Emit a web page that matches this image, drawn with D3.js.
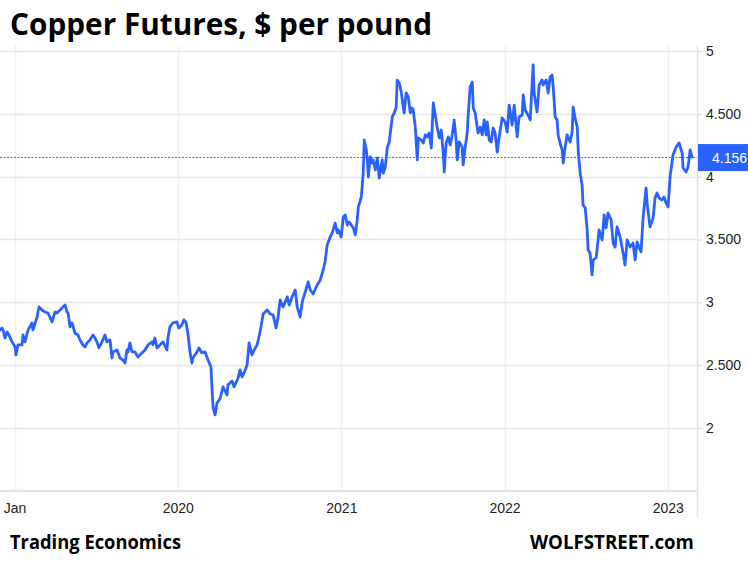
<!DOCTYPE html>
<html>
<head>
<meta charset="utf-8">
<script src="https://cdn.jsdelivr.net/npm/d3@7"></script>
<style>
  html, body { margin: 0; padding: 0; background: #ffffff; }
  svg { display: block; }
</style>
</head>
<body>
<div id="chart"></div>
<script>
// ---------- DATA ----------
const title = "Copper Futures, $ per pound";
const sourceLeft = "Trading Economics";
const sourceRight = "WOLFSTREET.com";
const lastValueLabel = "4.156";
const lastValue = 4.156;

// time as decimal years
const years = [
  2018.911, 2018.923, 2018.930, 2018.942, 2018.954, 2018.960, 2018.985, 2019.003, 2019.009, 2019.021,
  2019.046, 2019.052, 2019.064, 2019.083, 2019.107, 2019.113, 2019.138, 2019.150, 2019.168, 2019.187,
  2019.205, 2019.230, 2019.248, 2019.260, 2019.279, 2019.297, 2019.309, 2019.322, 2019.328, 2019.340,
  2019.352, 2019.370, 2019.389, 2019.401, 2019.419, 2019.432, 2019.444, 2019.462, 2019.481, 2019.493,
  2019.505, 2019.517, 2019.536, 2019.554, 2019.566, 2019.585, 2019.597, 2019.603, 2019.628, 2019.646,
  2019.664, 2019.677, 2019.689, 2019.695, 2019.707, 2019.720, 2019.738, 2019.756, 2019.781, 2019.799,
  2019.818, 2019.842, 2019.848, 2019.860, 2019.873, 2019.891, 2019.909, 2019.934, 2019.940, 2019.952,
  2019.970, 2019.995, 2020.007, 2020.025, 2020.038, 2020.050, 2020.062, 2020.075, 2020.087, 2020.093,
  2020.118, 2020.130, 2020.148, 2020.167, 2020.185, 2020.203, 2020.209, 2020.216, 2020.228, 2020.240,
  2020.258, 2020.277, 2020.301, 2020.307, 2020.332, 2020.344, 2020.369, 2020.381, 2020.393, 2020.405,
  2020.424, 2020.436, 2020.454, 2020.467, 2020.485, 2020.503, 2020.522, 2020.534, 2020.546, 2020.565,
  2020.583, 2020.601, 2020.614, 2020.626, 2020.644, 2020.669, 2020.681, 2020.699, 2020.718, 2020.730,
  2020.748, 2020.761, 2020.779, 2020.797, 2020.810, 2020.828, 2020.852, 2020.871, 2020.889, 2020.901,
  2020.913, 2020.932, 2020.944, 2020.962, 2020.975, 2020.981, 2020.999, 2021.012, 2021.024, 2021.036,
  2021.048, 2021.073, 2021.085, 2021.097, 2021.104, 2021.122, 2021.134, 2021.140, 2021.153, 2021.159,
  2021.165, 2021.177, 2021.189, 2021.195, 2021.208, 2021.220, 2021.232, 2021.250, 2021.257, 2021.269,
  2021.281, 2021.293, 2021.312, 2021.324, 2021.336, 2021.342, 2021.355, 2021.367, 2021.379, 2021.385,
  2021.397, 2021.410, 2021.422, 2021.434, 2021.440, 2021.453, 2021.465, 2021.471, 2021.489, 2021.502,
  2021.514, 2021.526, 2021.538, 2021.551, 2021.563, 2021.575, 2021.587, 2021.600, 2021.612, 2021.624,
  2021.630, 2021.642, 2021.655, 2021.667, 2021.679, 2021.691, 2021.704, 2021.710, 2021.722, 2021.740,
  2021.746, 2021.759, 2021.771, 2021.777, 2021.789, 2021.802, 2021.808, 2021.820, 2021.832, 2021.838,
  2021.851, 2021.863, 2021.875, 2021.887, 2021.894, 2021.906, 2021.918, 2021.930, 2021.942, 2021.955,
  2021.967, 2021.985, 2022.003, 2022.016, 2022.028, 2022.046, 2022.059, 2022.077, 2022.089, 2022.108,
  2022.114, 2022.126, 2022.144, 2022.157, 2022.175, 2022.181, 2022.199, 2022.212, 2022.230, 2022.236,
  2022.255, 2022.267, 2022.279, 2022.291, 2022.298, 2022.310, 2022.322, 2022.328, 2022.340, 2022.353,
  2022.359, 2022.371, 2022.383, 2022.402, 2022.414, 2022.420, 2022.432, 2022.445, 2022.451, 2022.463,
  2022.475, 2022.481, 2022.494, 2022.506, 2022.512, 2022.524, 2022.536, 2022.543, 2022.561, 2022.573,
  2022.579, 2022.598, 2022.610, 2022.622, 2022.634, 2022.653, 2022.665, 2022.677, 2022.689, 2022.708,
  2022.726, 2022.738, 2022.751, 2022.769, 2022.787, 2022.800, 2022.812, 2022.824, 2022.836, 2022.849,
  2022.867, 2022.873, 2022.891, 2022.910, 2022.922, 2022.934, 2022.947, 2022.965, 2022.977, 2022.989,
  2023.002, 2023.014, 2023.032, 2023.051, 2023.069, 2023.088, 2023.094, 2023.112, 2023.124, 2023.137,
  2023.149
];

// copper price, $ per pound
const prices = [
  2.780, 2.796, 2.780, 2.716, 2.764, 2.756, 2.685, 2.645, 2.581, 2.661,
  2.661, 2.740, 2.685, 2.780, 2.836, 2.780, 2.883, 2.963, 2.939, 2.923,
  2.915, 2.844, 2.923, 2.915, 2.939, 2.963, 2.979, 2.923, 2.915, 2.804,
  2.836, 2.756, 2.740, 2.700, 2.661, 2.645, 2.677, 2.700, 2.740, 2.716,
  2.685, 2.637, 2.685, 2.740, 2.685, 2.700, 2.557, 2.605, 2.621, 2.557,
  2.541, 2.517, 2.621, 2.605, 2.677, 2.605, 2.605, 2.565, 2.597, 2.621,
  2.661, 2.685, 2.661, 2.716, 2.637, 2.661, 2.685, 2.621, 2.716, 2.804,
  2.836, 2.844, 2.796, 2.820, 2.860, 2.844, 2.756, 2.605, 2.517, 2.557,
  2.605, 2.637, 2.597, 2.605, 2.541, 2.486, 2.327, 2.168, 2.104, 2.199,
  2.231, 2.327, 2.263, 2.343, 2.374, 2.327, 2.398, 2.462, 2.406, 2.438,
  2.502, 2.677, 2.581, 2.621, 2.661, 2.764, 2.907, 2.923, 2.939, 2.907,
  2.899, 2.796, 2.891, 3.019, 2.963, 3.043, 2.979, 3.043, 3.098, 2.963,
  2.883, 3.003, 3.082, 3.162, 3.098, 3.066, 3.138, 3.178, 3.257, 3.329,
  3.456, 3.520, 3.552, 3.631, 3.552, 3.576, 3.520, 3.679, 3.695, 3.615,
  3.639, 3.592, 3.536, 3.655, 3.759, 3.838, 4.029, 4.292, 4.212, 4.133,
  3.997, 4.157, 4.109, 4.133, 4.053, 4.149, 3.989, 4.133, 4.029, 4.077,
  4.228, 4.276, 4.475, 4.507, 4.554, 4.769, 4.745, 4.674, 4.554, 4.507,
  4.666, 4.634, 4.507, 4.546, 4.531, 4.395, 4.133, 4.308, 4.292, 4.268,
  4.332, 4.316, 4.348, 4.228, 4.586, 4.491, 4.395, 4.308, 4.371, 4.188,
  4.037, 4.268, 4.316, 4.252, 4.332, 4.451, 4.276, 4.133, 4.276, 4.236,
  4.093, 4.236, 4.348, 4.491, 4.714, 4.753, 4.546, 4.507, 4.395, 4.348,
  4.395, 4.332, 4.451, 4.332, 4.435, 4.292, 4.276, 4.387, 4.348, 4.196,
  4.316, 4.467, 4.435, 4.355, 4.570, 4.411, 4.570, 4.316, 4.475, 4.491,
  4.650, 4.531, 4.491, 4.451, 4.889, 4.666, 4.515, 4.729, 4.769, 4.729,
  4.769, 4.666, 4.793, 4.809, 4.714, 4.475, 4.451, 4.332, 4.268, 4.212,
  4.109, 4.236, 4.332, 4.276, 4.355, 4.554, 4.467, 4.395, 4.212, 4.029,
  3.934, 3.775, 3.751, 3.576, 3.417, 3.393, 3.218, 3.337, 3.353, 3.496,
  3.576, 3.496, 3.695, 3.592, 3.711, 3.655, 3.472, 3.440, 3.600, 3.520,
  3.393, 3.297, 3.496, 3.440, 3.472, 3.337, 3.480, 3.440, 3.401, 3.679,
  3.910, 3.791, 3.600, 3.671, 3.830, 3.870, 3.830, 3.814, 3.838, 3.791,
  3.759, 3.997, 4.172, 4.236, 4.268, 4.188, 4.069, 4.037, 4.077, 4.212,
  4.156
];

const xTickYears = [2019, 2020, 2021, 2022, 2023];
const xTickLabels = ["Jan", "2020", "2021", "2022", "2023"];
const yTickValues = [2, 2.5, 3, 3.5, 4, 4.5, 5];
const yTickLabels = ["2", "2.500", "3", "3.500", "4", "4.500", "5"];

// ---------- HELPERS ----------
function yearToDate(t) {
  const y = Math.floor(t);
  const s = Date.UTC(y, 0, 1), e = Date.UTC(y + 1, 0, 1);
  return new Date(s + (t - y) * (e - s));
}

const W = 748, H = 563;
const plotLeft = 0, plotRight = 697, plotTop = 45, plotBottom = 491;

const svg = d3.select("#chart").append("svg")
  .attr("width", W).attr("height", H)
  .attr("viewBox", `0 0 ${W} ${H}`);

svg.append("rect").attr("width", W).attr("height", H).attr("fill", "#ffffff");

const x = d3.scaleUtc()
  .domain([yearToDate(2018.911), yearToDate(2023.179)])
  .range([plotLeft, plotRight]);

const y = d3.scaleLinear()
  .domain([1.5, 5])
  .range([490.8, 51]);

const data = years.map((t, i) => ({ date: yearToDate(t), value: prices[i] }));

// vertical gridlines
svg.append("g").selectAll("line")
  .data(xTickYears)
  .join("line")
  .attr("x1", d => Math.round(x(yearToDate(d))) + 0.5)
  .attr("x2", d => Math.round(x(yearToDate(d))) + 0.5)
  .attr("y1", plotTop).attr("y2", plotBottom)
  .attr("stroke", "#edf2f4").attr("stroke-width", 1.5);

// horizontal gridlines
svg.append("g").selectAll("line")
  .data(yTickValues)
  .join("line")
  .attr("x1", plotLeft).attr("x2", plotRight)
  .attr("y1", d => Math.round(y(d)) + 0.5)
  .attr("y2", d => Math.round(y(d)) + 0.5)
  .attr("stroke", "#e8e8e8").attr("stroke-width", 1.5);

// bottom axis line
svg.append("line")
  .attr("x1", plotLeft).attr("x2", plotRight)
  .attr("y1", plotBottom).attr("y2", plotBottom)
  .attr("stroke", "#e3e3e3").attr("stroke-width", 2);

// right axis (d3 axis)
const yAxis = d3.axisRight(y)
  .tickValues(yTickValues)
  .tickSize(5)
  .tickPadding(4)
  .tickFormat((d, i) => yTickLabels[i]);

const gy = svg.append("g")
  .attr("transform", `translate(${plotRight},0)`)
  .call(yAxis);
gy.select(".domain").remove();
gy.selectAll(".tick line").attr("stroke", "#d6d6d6");
gy.selectAll(".tick text")
  .attr("font-family", "Arial, 'Liberation Sans', sans-serif")
  .attr("font-size", 14)
  .attr("fill", "#222");

svg.append("line")
  .attr("x1", plotRight + 0.5).attr("x2", plotRight + 0.5)
  .attr("y1", plotTop).attr("y2", 517)
  .attr("stroke", "#e3e3e3").attr("stroke-width", 1.5);

// bottom axis labels
const xAxis = d3.axisBottom(x)
  .tickValues(xTickYears.map(yearToDate))
  .tickSize(0)
  .tickPadding(12)
  .tickFormat((d, i) => xTickLabels[i]);
const gx = svg.append("g")
  .attr("transform", `translate(0,${plotBottom})`)
  .call(xAxis);
gx.select(".domain").remove();
gx.selectAll(".tick text")
  .attr("font-family", "Arial, 'Liberation Sans', sans-serif")
  .attr("font-size", 14)
  .attr("fill", "#222");

// dotted last-value line
svg.append("line")
  .attr("x1", plotLeft).attr("x2", plotRight)
  .attr("y1", Math.round(y(lastValue)) + 0.5)
  .attr("y2", Math.round(y(lastValue)) + 0.5)
  .attr("stroke", "#3b6dff").attr("stroke-width", 1)
  .attr("stroke-dasharray", "2,1.5");

// price line
const line = d3.line()
  .x(d => x(d.date))
  .y(d => y(d.value));

svg.append("path")
  .datum(data)
  .attr("d", line)
  .attr("fill", "none")
  .attr("stroke", "#2962ff")
  .attr("stroke-width", 2.8)
  .attr("stroke-linejoin", "round")
  .attr("stroke-linecap", "round");

// last value box
const ly = y(lastValue);
svg.append("rect")
  .attr("x", plotRight + 1).attr("y", ly - 13)
  .attr("width", W - plotRight).attr("height", 27)
  .attr("fill", "#2962ff");
svg.append("text")
  .attr("x", 712).attr("y", ly + 5.5)
  .attr("font-family", "Arial, 'Liberation Sans', sans-serif")
  .attr("font-size", 14)
  .attr("fill", "#ffffff")
  .text(lastValueLabel);

// title
svg.append("text")
  .attr("x", 10).attr("y", 35)
  .attr("font-family", "'Open Sans', sans-serif")
  .attr("font-weight", 700)
  .attr("font-size", 31)
  .attr("fill", "#000")
  .attr("textLength", 422)
  .attr("lengthAdjust", "spacingAndGlyphs")
  .text(title);

// footer
svg.append("text")
  .attr("x", 10).attr("y", 549)
  .attr("font-family", "'Open Sans', sans-serif")
  .attr("font-weight", 700)
  .attr("font-size", 19)
  .attr("fill", "#000")
  .attr("textLength", 171)
  .attr("lengthAdjust", "spacingAndGlyphs")
  .text(sourceLeft);

svg.append("text")
  .attr("x", 530).attr("y", 549)
  .attr("font-family", "'Open Sans', sans-serif")
  .attr("font-weight", 700)
  .attr("font-size", 19)
  .attr("fill", "#000")
  .attr("textLength", 164)
  .attr("lengthAdjust", "spacingAndGlyphs")
  .text(sourceRight);
</script>
</body>
</html>
